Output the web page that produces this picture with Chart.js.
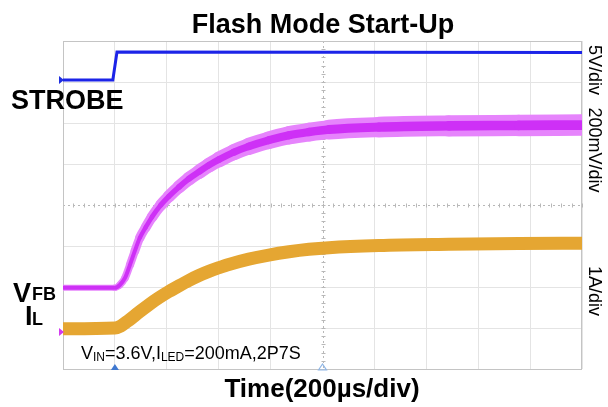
<!DOCTYPE html>
<html lang="en">
<head>
    <meta charset="UTF-8">
    <title>Flash Mode Start-Up</title>
    <script src="https://cdn.jsdelivr.net/npm/chart.js"></script>
    <style>
        html, body { margin: 0; padding: 0; background: #fff; }
        #wrap { width: 608px; height: 407px; }
    </style>
</head>
<body>
<div id="wrap"><canvas id="scope"></canvas></div>

<script>
// time axis in µs (200 µs/div, trigger at 0), values in screen divisions (0 = bottom, 8 = top)
const timeTicks = [-200, 0, 200, 400, 600, 800, 1000, 1200, 1400, 1600, 1800];

const strobeT   = [-200, -8, 8, 1800];
const strobeDiv = [7.05, 7.05, 7.73, 7.72];

const vfbT   = [-200, 0, 19, 39, 58, 77, 96, 119, 143, 177, 208, 247, 285, 324, 362, 401, 459, 516, 593, 671, 748, 825, 1017, 1287, 1557, 1800];
const vfbDiv = [1.98, 1.98, 2.05, 2.22, 2.54, 2.88, 3.20, 3.46, 3.71, 4.00, 4.21, 4.44, 4.64, 4.81, 4.97, 5.11, 5.29, 5.43, 5.58, 5.70, 5.78, 5.84, 5.90, 5.93, 5.94, 5.95];

const ilT   = [-200, 0, 23, 54, 92, 131, 170, 208, 247, 285, 324, 362, 401, 439, 516, 593, 671, 748, 825, 1017, 1287, 1557, 1800];
const ilDiv = [0.98, 1.00, 1.05, 1.19, 1.38, 1.57, 1.74, 1.89, 2.03, 2.16, 2.28, 2.38, 2.47, 2.55, 2.68, 2.78, 2.86, 2.92, 2.96, 3.01, 3.04, 3.06, 3.07];

const scaleLabels = [
    { text: '5V/div',    y: 70 },
    { text: '200mV/div', y: 150 },
    { text: '1A/div',    y: 291 }
];

function pts(xs, ys) {
    return xs.map((x, i) => ({ x: x, y: ys[i] }));
}

// vfb trace gets wider (noisier) as it settles
function vfbWidth(ctx, k) {
    const t = Math.max(0, ctx.p1.parsed.x);
    return (6 + 16 * (1 - Math.exp(-t / 500))) * k;
}

const FONT = '"Liberation Sans", Arial, sans-serif';

const scopeDecor = {
    id: 'scopeDecor',
    beforeDatasetsDraw(chart) {
        const { ctx, chartArea: a, scales: { x, y } } = chart;
        ctx.save();
        // dotted centre lines with minor ticks
        ctx.strokeStyle = '#b8b8b8';
        ctx.lineWidth = 1;
        ctx.setLineDash([2, 3]);
        const cx = Math.round(x.getPixelForValue(800)) + 0.5;
        const cy = Math.round(y.getPixelForValue(4)) + 0.5;
        ctx.beginPath();
        ctx.moveTo(a.left, cy); ctx.lineTo(a.right, cy);
        ctx.moveTo(cx, a.top); ctx.lineTo(cx, a.bottom);
        ctx.stroke();
        ctx.setLineDash([]);
        ctx.beginPath();
        for (let t = -200; t <= 1800; t += 40) {
            const px = Math.round(x.getPixelForValue(t)) + 0.5;
            ctx.moveTo(px, cy - 2); ctx.lineTo(px, cy + 2);
        }
        for (let v = 0; v <= 8; v += 0.2) {
            const py = Math.round(y.getPixelForValue(v)) + 0.5;
            ctx.moveTo(cx - 2, py); ctx.lineTo(cx + 2, py);
        }
        ctx.stroke();
        // frame
        ctx.strokeStyle = '#c4c4c4';
        ctx.strokeRect(a.left + 0.5, a.top + 0.5, a.right - a.left - 1, a.bottom - a.top);
        ctx.restore();
    },
    afterDraw(chart) {
        const { ctx, chartArea: a, scales: { x, y } } = chart;
        ctx.save();
        ctx.fillStyle = '#000';
        ctx.textBaseline = 'alphabetic';

        ctx.font = 'bold 27px ' + FONT;
        ctx.textAlign = 'center';
        ctx.fillText('Flash Mode Start-Up', 323, 33);

        ctx.font = 'bold 26px ' + FONT;
        ctx.fillText('Time(200µs/div)', 322, 397);

        ctx.textAlign = 'left';
        ctx.font = 'bold 27px ' + FONT;
        ctx.fillText('STROBE', 11, 109);
        ctx.fillText('V', 13, 302);
        ctx.fillText('I', 25, 325);
        ctx.font = 'bold 18px ' + FONT;
        ctx.fillText('FB', 32, 300);
        ctx.fillText('L', 32, 325);

        // test condition with subscripts
        let px = 81;
        const parts = [['V', 0], ['IN', 1], ['=3.6V,I', 0], ['LED', 1], ['=200mA,2P7S', 0]];
        parts.forEach(p => {
            ctx.font = p[1] ? '12px ' + FONT : '18px ' + FONT;
            ctx.fillText(p[0], px, p[1] ? 361 : 359);
            px += ctx.measureText(p[0]).width;
        });

        // volts/div labels, rotated
        ctx.font = '18px ' + FONT;
        ctx.textAlign = 'center';
        ctx.textBaseline = 'middle';
        scaleLabels.forEach(l => {
            ctx.save();
            ctx.translate(594, l.y);
            ctx.rotate(Math.PI / 2);
            ctx.fillText(l.text, 0, 0);
            ctx.restore();
        });

        // trigger / position markers
        const tx = x.getPixelForValue(0);
        const mx = x.getPixelForValue(800);
        ctx.beginPath();
        ctx.moveTo(tx - 4, a.bottom + 1); ctx.lineTo(tx, a.bottom - 5); ctx.lineTo(tx + 4, a.bottom + 1);
        ctx.closePath();
        ctx.fillStyle = '#3f78d0';
        ctx.fill();
        ctx.beginPath();
        ctx.moveTo(mx - 4, a.bottom + 1); ctx.lineTo(mx, a.bottom - 5); ctx.lineTo(mx + 4, a.bottom + 1);
        ctx.closePath();
        ctx.strokeStyle = '#8fb6e6';
        ctx.lineWidth = 1.2;
        ctx.stroke();

        // channel ground markers on the left edge
        [[strobeDiv[0], '#1f2fe0'], [0.9, '#d33cf0']].forEach(m => {
            const py = y.getPixelForValue(m[0]);
            ctx.beginPath();
            ctx.moveTo(a.left - 4, py - 4); ctx.lineTo(a.left + 1, py); ctx.lineTo(a.left - 4, py + 4);
            ctx.closePath();
            ctx.fillStyle = m[1];
            ctx.fill();
        });
        ctx.restore();
    }
};

// datasets are painted last-to-first, so the first one ends up on top
new Chart(document.getElementById('scope'), {
    type: 'line',
    data: {
        datasets: [
            {
                label: 'IL',
                data: pts(ilT, ilDiv),
                borderColor: 'rgb(229, 166, 50)',
                borderWidth: 13,
                borderCapStyle: 'round',
                borderJoinStyle: 'round',
                pointRadius: 0,
                cubicInterpolationMode: 'monotone'
            },
            {
                label: 'VFB',
                data: pts(vfbT, vfbDiv),
                borderColor: 'rgb(206, 48, 246)',
                borderCapStyle: 'round',
                segment: { borderWidth: c => Math.max(4, vfbWidth(c, 0.45)) },
                pointRadius: 0,
                cubicInterpolationMode: 'monotone'
            },
            {
                label: 'VFB halo',
                data: pts(vfbT, vfbDiv),
                borderColor: 'rgb(230, 132, 252)',
                borderCapStyle: 'round',
                segment: { borderWidth: c => vfbWidth(c, 1) },
                pointRadius: 0,
                cubicInterpolationMode: 'monotone'
            },
            {
                label: 'STROBE',
                data: pts(strobeT, strobeDiv),
                borderColor: 'rgb(28, 36, 232)',
                borderWidth: 3,
                pointRadius: 0,
                tension: 0
            }
        ]
    },
    options: {
        responsive: true,
        maintainAspectRatio: false,
        animation: false,
        layout: { padding: { left: 63, right: 26, top: 41, bottom: 38 } },
        plugins: { legend: { display: false }, tooltip: { enabled: false }, title: { display: false } },
        scales: {
            x: {
                type: 'linear',
                min: -200,
                max: 1800,
                afterBuildTicks: s => { s.ticks = timeTicks.map(v => ({ value: v })); },
                ticks: { display: false },
                grid: {
                    drawTicks: false,
                    color: c => c.tick && c.tick.value === 800 ? 'transparent' : '#e4e4e4'
                },
                border: { display: false }
            },
            y: {
                min: 0,
                max: 8,
                ticks: { display: false, stepSize: 1 },
                grid: {
                    drawTicks: false,
                    color: c => c.tick && c.tick.value === 4 ? 'transparent' : '#e4e4e4'
                },
                border: { display: false }
            }
        }
    },
    plugins: [scopeDecor]
});
</script>
</body>
</html>
